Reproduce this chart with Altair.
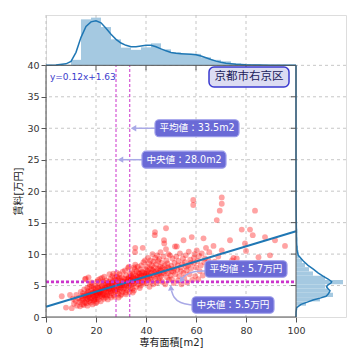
import altair as alt
import pandas as pd

# ---------------- data ----------------
points = [
    (10.3,1.4),(11.2,2.1),(11.8,2.6),(12.4,1.8),(12.9,3.0),(12.1,3.5),(13.3,2.4),(10.8,2.9),(6.3,3.3),(9.6,3.5),(8.0,1.5),
    (13.6,1.7),(14.0,2.6),(14.2,3.3),(14.5,2.0),(14.8,3.8),(15.0,2.9),(15.3,4.4),(15.5,2.3),(15.8,3.5),(13.9,4.0),(14.6,2.8),(15.1,1.9),(15.6,6.0),(15.9,6.1),(16.0,3.1),
    (16.2,2.2),(16.4,3.7),(16.5,4.6),(16.7,2.9),(16.9,3.3),(17.0,6.3),(17.1,4.0),(17.3,2.5),(17.5,3.1),(17.6,5.2),(17.8,3.6),(18.0,2.7),(18.1,4.3),(18.3,3.0),(18.4,4.9),(18.6,2.0),(18.7,3.8),(18.9,3.4),(19.0,4.5),(19.2,2.6),(16.6,1.8),(17.4,4.8),(18.2,5.5),(19.3,3.2),
    (19.5,3.9),(19.6,5.0),(19.8,2.9),(20.0,3.5),(20.1,4.2),(20.3,2.4),(20.4,5.6),(20.6,3.1),(20.7,4.7),(20.9,3.7),(21.0,2.8),(21.2,4.4),(21.3,5.2),(21.5,3.3),(21.6,3.9),(21.8,4.8),(21.9,2.5),(22.0,3.6),(19.7,4.6),(20.2,3.8),(20.8,5.9),(21.4,4.0),(19.9,2.2),(21.7,6.1),
    (22.2,4.1),(22.3,5.0),(22.5,3.2),(22.6,4.5),(22.8,3.8),(22.9,5.6),(23.1,2.9),(23.2,4.3),(23.4,3.5),(23.5,5.1),(23.7,4.7),(23.8,3.1),(24.0,4.0),(24.1,5.8),(24.3,3.6),(24.4,4.9),(24.6,4.3),(24.7,2.8),(24.9,5.3),(25.0,3.9),(22.4,6.2),(23.3,6.4),(24.2,4.6),(23.9,5.4),
    (25.2,4.5),(25.3,5.6),(25.5,3.4),(25.6,4.9),(25.8,6.0),(25.9,4.1),(26.1,5.3),(26.2,3.8),(26.4,4.6),(26.5,6.5),(26.7,5.0),(26.8,4.2),(27.0,5.7),(27.1,3.5),(27.3,4.8),(27.4,6.2),(27.6,5.2),(27.7,4.0),(27.9,5.9),(28.0,4.5),(25.4,6.8),(26.0,3.1),(26.9,6.9),(27.5,3.2),
    (28.2,5.4),(28.3,6.4),(28.5,4.1),(28.6,5.0),(28.8,3.7),(28.9,6.0),(29.1,4.7),(29.2,5.5),(29.4,6.8),(29.5,4.3),(29.7,5.1),(29.8,3.4),(30.0,5.8),(30.1,4.6),(30.3,6.3),(30.4,5.3),(30.6,4.0),(30.7,7.2),(30.9,5.6),(31.0,4.4),(28.4,7.0),(29.0,3.1),(30.2,3.6),
    (31.2,5.0),(31.3,6.1),(31.5,4.6),(31.6,7.4),(31.8,5.5),(31.9,3.9),(32.1,6.6),(32.2,5.2),(32.4,4.3),(32.5,6.0),(32.7,5.7),(32.8,7.8),(33.0,4.8),(33.1,6.3),(33.3,5.3),(33.4,4.0),(33.6,6.9),(33.7,5.9),(33.9,4.6),(34.0,6.5),(32.0,3.6),(33.2,8.0),
    (34.2,5.1),(34.3,6.2),(34.5,7.1),(34.6,4.5),(34.8,5.7),(34.9,6.8),(35.1,5.3),(35.2,4.2),(35.4,7.6),(35.5,6.0),(35.7,8.3),(35.8,5.6),(36.0,6.6),(36.1,4.8),(36.3,7.3),(36.4,5.9),(36.6,6.4),(36.7,8.0),(36.9,5.2),(37.0,7.0),(35.6,10.3),(35.7,11.0),(35.3,7.9),(34.7,3.9),
    (37.2,5.8),(37.3,6.9),(37.5,4.6),(37.6,7.6),(37.8,6.2),(37.9,5.0),(38.1,8.2),(38.2,6.6),(38.4,5.5),(38.5,7.2),(38.7,11.0),(38.8,6.0),(39.0,8.7),(39.1,5.3),(39.3,7.0),(39.4,6.4),(39.6,9.0),(39.7,5.8),(39.9,7.6),(40.0,6.8),
    (40.2,5.4),(40.3,8.0),(40.5,6.3),(40.6,7.3),(40.8,9.4),(40.9,5.9),(41.1,6.9),(41.2,8.5),(41.4,4.8),(41.5,7.7),(41.7,6.1),(41.8,9.0),(42.0,7.0),(42.1,5.6),(42.3,8.2),(42.4,6.6),(42.6,10.0),(42.7,7.4),(42.9,5.2),(43.0,8.8),
    (43.2,6.4),(43.3,7.9),(43.5,13.0),(43.6,13.5),(43.7,9.4),(43.8,6.0),(44.0,7.2),(44.1,8.4),(44.3,5.4),(44.4,9.8),(44.6,7.6),(44.7,6.7),(44.9,8.9),(45.0,5.8),(45.2,7.0),(45.3,9.2),(45.5,6.2),(45.6,8.0),(45.8,10.3),(45.9,7.4),
    (46.1,6.5),(46.3,8.6),(46.5,5.6),(46.7,7.8),(46.9,9.6),(47.1,6.9),(47.2,12.2),(47.3,11.7),(47.5,8.2),(47.7,5.2),(47.9,7.3),(48.0,14.1),(48.0,10.8),(48.2,9.0),(48.4,6.3),(48.6,8.5),(48.8,7.0),(49.0,10.0),(49.2,5.9),(49.4,7.7),(49.6,9.8),(49.8,6.6),
    (50.1,8.1),(50.4,6.0),(50.6,9.3),(50.9,7.2),(51.1,5.4),(51.4,8.6),(51.6,11.2),(51.8,6.8),(52.1,9.6),(52.3,11.2),(52.5,7.5),(52.8,5.8),(53.0,8.9),(53.3,6.5),(53.6,10.1),(53.9,7.9),(54.2,5.2),(54.5,8.4),(54.8,9.3),(55.0,12.2),(55.0,7.0),
    (55.3,6.2),(55.6,8.7),(55.9,9.8),(56.2,7.4),(56.5,5.5),(56.8,8.2),(57.1,10.4),(57.4,6.8),(57.7,9.1),(58.0,7.7),(58.3,12.7),(58.5,5.9),(58.9,18.6),(58.9,17.8),(59.1,8.6),(59.4,10.0),(59.7,6.5),(60.0,7.9),(60.3,10.6),(59.2,9.4),
    (60.6,8.9),(60.9,6.0),(61.2,9.7),(61.5,7.3),(61.9,8.2),(62.3,10.1),(62.7,6.6),(63.0,12.5),(63.3,8.7),(63.6,9.3),(64.0,11.0),(64.3,7.1),(64.6,8.0),(65.0,9.0),(65.3,10.3),
    (66.0,7.6),(67.0,11.3),(67.5,8.8),(68.3,15.4),(68.9,9.6),(69.5,16.9),(70.3,19.0),(70.3,18.0),(70.3,10.6),(71.2,8.3),(72.0,7.4),(73.6,12.2),(74.4,9.0),(75.0,9.4),(76.3,9.3),(77.0,8.1),(78.3,13.9),(79.6,11.7),(80.0,10.5),(81.6,13.9),(82.7,13.0),(83.6,16.9),(85.0,9.5),(87.6,12.7),(89.6,9.8),(91.6,12.2),(95.6,11.3),
    (15.2,3.4),(16.1,2.7),(16.8,4.1),(17.2,3.5),(17.9,2.3),(18.5,3.6),(19.1,4.0),(19.4,2.8),(20.5,3.4),(21.1,3.9),(21.9,4.3),(22.7,3.5),(23.6,4.4),(24.5,3.4),(25.1,5.0),(25.7,4.3),(26.3,5.5),(27.2,4.4),(27.8,5.4),(28.7,4.4),
    (29.3,6.2),(29.9,5.0),(30.5,5.0),(31.4,5.7),(32.3,5.0),(32.9,6.1),(33.5,5.6),(34.1,6.0),(34.4,5.4),(35.0,6.3),(36.2,6.1),(36.8,5.7),(37.4,6.4),(38.3,7.0),(39.2,6.6),(40.4,7.0),(41.3,6.5),(42.2,7.6),(43.4,7.1),(44.2,6.8),
    (45.4,7.7),(46.6,7.0),(47.6,7.6),(48.9,7.9),(50.2,7.3),(51.3,7.7),(52.7,8.2),(54.0,7.3),(56.0,8.0),(57.9,8.6),
]
area = [p[0] for p in points]
rent = [p[1] for p in points]

slope = 0.12
intercept = 1.63
mean_area, median_area = 33.5, 28.0
mean_rent, median_rent = 5.7, 5.5

x_ticks = [0, 20, 40, 60, 80, 100]
y_ticks = [0, 5, 10, 15, 20, 25, 30, 35, 40]

# top marginal histogram (bin start, bin width 4) and heights (px)
top_bin_start = [6, 10, 14, 18, 22, 26, 30, 34, 38, 42, 46, 50, 54, 58, 62, 66, 70, 74, 78, 82, 86, 90, 94]
top_hist_h = [0.5, 5.5, 46, 47.7, 38.3, 26, 17.7, 15.5, 18, 22, 16, 13, 11.5, 11.5, 8, 5.5, 4, 2, 1.2, 0.8, 0.4, 0.4, 0.3]
top_kde_x = [0, 4, 8, 10, 12, 14, 16, 18, 20, 22, 24, 26, 28, 30, 32, 34, 36, 38, 40, 42, 44, 46, 48, 50,
             52, 54, 56, 58, 60, 62, 64, 66, 68, 70, 72, 74, 76, 78, 80, 85, 90, 95, 100]
top_kde_h = [0.1, 0.4, 1.5, 4, 13, 28, 39, 43.5, 44.5, 42.5, 37, 31, 26, 22.3, 20, 18.5, 18.5, 19.3, 20, 20, 18.5, 16.5, 14.5, 12.8,
             12, 11.6, 11.3, 11, 10.5, 9.3, 7.6, 5.8, 4.2, 3, 2.2, 1.6, 1.1, 0.8, 0.5, 0.3, 0.2, 0.1, 0.05]

# right marginal histogram (bin start, bin width 0.68) and widths (px)
right_bin_start = [1.12, 1.8, 2.48, 3.16, 3.84, 4.52, 5.2, 5.88, 6.56, 7.24, 7.92, 8.6, 9.28, 9.96, 10.64,
                   11.32, 12.0, 12.68, 13.36, 14.04, 14.72, 15.4, 16.08, 16.76, 17.44, 18.12]
right_hist_w = [1, 10, 24, 37, 33, 29, 47, 29, 17, 13, 9, 6, 3, 2.5, 2, 1, 1.3, 0.8, 1.3, 0.5, 0.3, 0.5, 0.3, 0.2, 0.4, 0.3]
right_kde_y = [0, 0.8, 1.5, 2.0, 2.4, 2.7, 3.0, 3.3, 3.6, 4.0, 4.2, 4.5, 4.8, 5.1, 5.4, 5.6, 6.0, 6.5, 7.0, 7.6,
               8.2, 8.9, 9.8, 10.6, 12, 14, 16, 18, 20, 25, 40]
right_kde_w = [0, 0.1, 0.7, 5, 12, 17, 24, 30, 32, 33.5, 34, 32, 30.5, 32, 35, 35.7, 32.5, 27, 22, 17.3,
               12, 7.3, 2.3, 1, 0.6, 0.4, 0.2, 0.1, 0.05, 0.02, 0]

# ---------------- layout helpers ----------------
W, H = 300, 302
XMAX, YMAX = 120, 48
PXX = W / XMAX
PXY = H / YMAX
FONT = "DejaVu Sans, Noto Sans CJK JP"
BLUE = "#1f77b4"
BAR = "#a5c9e1"
MAG = "#cc33cc"
GRID = "#b8b8b8"
SPINE = "#555555"
BOX = "#6a6ad6"
ARROW = "#a9a9e6"

xs = alt.Scale(domain=[0, XMAX], nice=False, zero=False)
ys = alt.Scale(domain=[0, YMAX], nice=False, zero=False)

AX_X = alt.Axis(
    values=x_ticks, grid=False, domain=False, tickSize=5, tickColor=SPINE, labelFontSize=9.5,
    labelColor="#333333", labelFont=FONT, labelPadding=3, title="専有面積[m2]", titleFont=FONT,
    titleFontSize=10, titleFontWeight="normal", titleColor="#222222", titleX=125, titleY=25,
    titleBaseline="middle", titleAnchor="middle", titleAlign="center")
AX_Y = alt.Axis(
    values=y_ticks, grid=False, domain=False, tickSize=5, tickColor=SPINE, labelFontSize=9.5,
    labelColor="#333333", labelFont=FONT, labelPadding=2, title="賃料[万円]", titleFont=FONT,
    titleFontSize=10, titleFontWeight="normal", titleColor="#222222", titleX=-28, titleY=176,
    titleAngle=270, titleBaseline="middle", titleAlign="center")


def X(f):
    return alt.X(f, type="quantitative", scale=xs, axis=AX_X)


def Y(f):
    return alt.Y(f, type="quantitative", scale=ys, axis=AX_Y)


layers = []

# grid
layers.append(alt.Chart(pd.DataFrame({"x": [0, 20, 40, 60, 80]})).mark_rule(
    color=GRID, strokeWidth=0.8, strokeDash=[3, 3]).encode(x=X("x")))
layers.append(alt.Chart(pd.DataFrame({"y": [5, 10, 15, 20, 25, 30, 35, 40]})).mark_rule(
    color=GRID, strokeWidth=0.8, strokeDash=[3, 3]).encode(y=Y("y")))

# top marginal
top_df = pd.DataFrame({"x": top_bin_start, "x2": [s + 4 for s in top_bin_start],
                       "y": [40] * len(top_bin_start), "y2": [40 + h / PXY for h in top_hist_h]})
layers.append(alt.Chart(top_df).mark_rect(color=BAR).encode(x=X("x"), x2="x2", y=Y("y"), y2="y2"))
top_kde = pd.DataFrame({"x": top_kde_x, "y": [40 + h / PXY for h in top_kde_h]})
layers.append(alt.Chart(top_kde).mark_line(color=BLUE, strokeWidth=1.5).encode(x=X("x"), y=Y("y")))

# right marginal
r_df = pd.DataFrame({"y": right_bin_start, "y2": [s + 0.68 for s in right_bin_start],
                     "x": [100] * len(right_bin_start), "x2": [100 + w / PXX for w in right_hist_w]})
layers.append(alt.Chart(r_df).mark_rect(color=BAR).encode(x=X("x"), x2="x2", y=Y("y"), y2="y2"))
r_kde = pd.DataFrame({"y": right_kde_y, "x": [100 + w / PXX for w in right_kde_w],
                      "o": list(range(len(right_kde_y)))})
layers.append(alt.Chart(r_kde).mark_line(color=BLUE, strokeWidth=1.5).encode(
    x=X("x"), y=Y("y"), order="o:Q"))

# scatter
sc = pd.DataFrame({"x": area, "y": rent})
layers.append(alt.Chart(sc).mark_circle(color="#ff0000", opacity=0.36, size=34).encode(x=X("x"), y=Y("y")))

# regression line
reg = pd.DataFrame({"x": [0, 100], "y": [intercept + slope * v for v in [0, 100]]})
layers.append(alt.Chart(reg).mark_line(color=BLUE, strokeWidth=2).encode(x=X("x"), y=Y("y")))

# mean / median lines
layers.append(alt.Chart(pd.DataFrame({"x": [median_area, mean_area], "y": [0, 0], "y2": [40, 40]})).mark_rule(
    color=MAG, strokeWidth=1, strokeDash=[3, 2]).encode(x=X("x"), y=Y("y"), y2="y2"))
layers.append(alt.Chart(pd.DataFrame({"y": [median_rent, mean_rent], "x": [0, 0], "x2": [100, 100]})).mark_rule(
    color=MAG, strokeWidth=1.5, strokeDash=[3, 2]).encode(x=X("x"), x2="x2", y=Y("y")))

# spines and marginal ticks
spines = pd.DataFrame({"x": [0, 0, 100, 0], "x2": [0, 100, 100, 100], "y": [0, 0, 0, 40], "y2": [40, 0, 40, 40]})
layers.append(alt.Chart(spines).mark_rule(color=SPINE, strokeWidth=1).encode(
    x=X("x"), x2="x2", y=Y("y"), y2="y2"))
tt = pd.DataFrame({"x": [20, 40, 60, 80], "y": [40] * 4, "y2": [40 - 5 / PXY] * 4})
layers.append(alt.Chart(tt).mark_rule(color=SPINE, strokeWidth=1).encode(x=X("x"), y=Y("y"), y2="y2"))
rt = pd.DataFrame({"y": [5, 10, 15, 20, 25, 30, 35], "x": [100] * 7, "x2": [100 - 5 / PXX] * 7})
layers.append(alt.Chart(rt).mark_rule(color=SPINE, strokeWidth=1).encode(x=X("x"), x2="x2", y=Y("y")))

# arrows
straight = pd.DataFrame({"x": [43.6, 38.4], "x2": [35.5, 30.3], "y": [30, 25]})
layers.append(alt.Chart(straight).mark_rule(color=ARROW, strokeWidth=1.5).encode(x=X("x"), x2="x2", y=Y("y")))
layers.append(alt.Chart(pd.DataFrame({"x": [35.0, 29.8], "y": [30, 25]})).mark_point(
    shape="triangle-left", filled=True, color=ARROW, opacity=1, size=40).encode(x=X("x"), y=Y("y")))
curve = pd.DataFrame({
    "x": [63.6, 59.0, 56.2, 54.6, 58.4, 53.5, 51.0, 50.2],
    "y": [7.3, 7.25, 6.8, 6.2, 1.9, 2.2, 3.1, 4.2],
    "g": ["a"] * 4 + ["b"] * 4, "o": [0, 1, 2, 3, 0, 1, 2, 3]})
layers.append(alt.Chart(curve).mark_line(color=ARROW, strokeWidth=1.5, interpolate="basis").encode(
    x=X("x"), y=Y("y"), detail="g:N", order="o:Q"))
layers.append(alt.Chart(pd.DataFrame({"x": [54.3], "y": [5.95]})).mark_point(
    shape="triangle", angle=215, filled=True, color=ARROW, opacity=1, size=40).encode(x=X("x"), y=Y("y")))
layers.append(alt.Chart(pd.DataFrame({"x": [50.0], "y": [4.5]})).mark_point(
    shape="triangle", angle=355, filled=True, color=ARROW, opacity=1, size=40).encode(x=X("x"), y=Y("y")))

# annotation boxes (centre in data units, size in px)
ann = [
    ("平均値：33.5m2", 60.4, 30.0, 84, 17),
    ("中央値：28.0m2", 55.2, 25.0, 84, 17),
    ("平均値：5.7万円", 80.0, 7.63, 82, 16.5),
    ("中央値：5.5万円", 74.8, 1.91, 82, 16.5),
]
box_df = pd.DataFrame({
    "t": [a[0] for a in ann], "cx": [a[1] for a in ann], "cy": [a[2] for a in ann],
    "x": [a[1] - a[3] / 2 / PXX for a in ann], "x2": [a[1] + a[3] / 2 / PXX for a in ann],
    "y": [a[2] - a[4] / 2 / PXY for a in ann], "y2": [a[2] + a[4] / 2 / PXY for a in ann]})
layers.append(alt.Chart(box_df).mark_rect(fill=BOX, stroke="#9c9cea", strokeWidth=1.2, cornerRadius=4).encode(
    x=X("x"), x2="x2", y=Y("y"), y2="y2"))
layers.append(alt.Chart(box_df).mark_text(color="white", font=FONT, fontSize=9.6, align="center",
                                          baseline="middle").encode(x=X("cx"), y=Y("cy"), text="t:N"))

# title box
tb = pd.DataFrame({"t": ["京都市右京区"], "cx": [81.2], "cy": [38.15],
                   "x": [81.2 - 40 / PXX], "x2": [81.2 + 40 / PXX],
                   "y": [38.15 - 10 / PXY], "y2": [38.15 + 10 / PXY]})
layers.append(alt.Chart(tb).mark_rect(fill="#dcdcf2", stroke="#3a3ad0", strokeWidth=1.5, cornerRadius=5).encode(
    x=X("x"), x2="x2", y=Y("y"), y2="y2"))
layers.append(alt.Chart(tb).mark_text(color="#20205a", font=FONT, fontSize=11.5, align="center",
                                      baseline="middle").encode(x=X("cx"), y=Y("cy"), text="t:N"))

# regression equation
eq = pd.DataFrame({"t": [f"y={slope:.2f}x+{intercept:.2f}"], "x": [1.6], "y": [38.15]})
layers.append(alt.Chart(eq).mark_text(color="#3a3acc", font=FONT, fontSize=9, align="left",
                                      baseline="middle").encode(x=X("x"), y=Y("y"), text="t:N"))

chart = alt.layer(*layers).properties(
    width=W, height=H,
    autosize=alt.AutoSizeParams(type="none"),
    padding={"left": 38, "top": 7, "right": 6, "bottom": 36},
).configure_view(stroke=None).configure(background="white")

chart.save("out.html", embed_options={"renderer": "svg", "actions": False})
